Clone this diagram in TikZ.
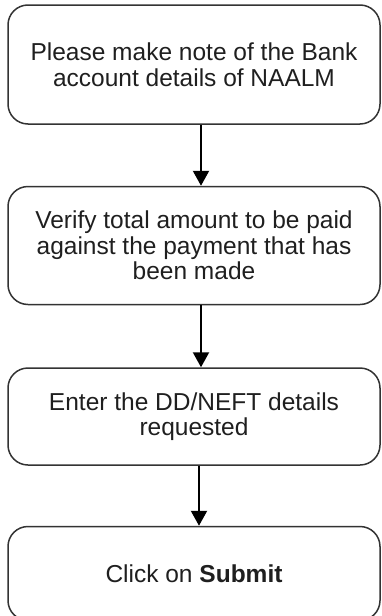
\documentclass[tikz,border=0pt]{standalone}
\usepackage{fontspec}
\setmainfont{Liberation Sans}
\usetikzlibrary{arrows.meta,positioning}

\begin{document}
\begin{tikzpicture}[x=1pt,y=1pt,>={Triangle[width=16pt,length=15pt]}, node distance=61pt,
	every node/.style={font=\fontsize{24.5}{25.5}\selectfont, text=black!88},
	stepbox/.style={draw=black!80, line width=1.5pt, rounded corners=20pt, minimum width=372pt, align=center}]
	 \useasboundingbox (0,0) rectangle (381,-616);
	 \node[stepbox, minimum height=119pt] (qNote) at (194,-64.5) {Please make note of the Bank\\account details of NAALM};
	 \node[stepbox, minimum height=118pt] (qVerify) [below=of qNote] {Verify total amount to be paid\\against the payment that has\\been made};
	 \node[stepbox, minimum height=97pt] (qEnter) [below=62pt of qVerify] {Enter the DD/NEFT details\\requested};
	 \node[stepbox, minimum height=94pt] (qSubmit) [below=60pt of qEnter] {Click on \textbf{Submit}};

	 \path[->, line width=2.2pt]
	 ([xshift=7pt]qNote.south) edge ([xshift=7pt]qVerify.north)
	 ([xshift=7pt]qVerify.south) edge ([xshift=7pt]qEnter.north)
	 ([xshift=5pt]qEnter.south) edge ([xshift=5pt]qSubmit.north)
	 ;
\end{tikzpicture}
\end{document}
